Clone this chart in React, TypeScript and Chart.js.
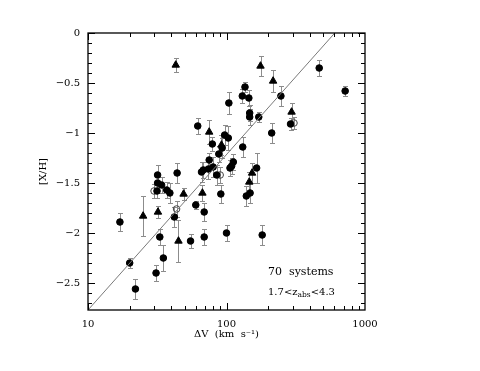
import React, { useEffect, useRef } from "react";
import { Chart, registerables } from "chart.js";

Chart.register(...registerables);

// Filled circles
const circleX = [17, 20, 22, 31, 33, 35, 31.8, 31.8, 34, 31.5, 37, 39, 42, 44, 55, 60, 62, 66, 69, 69, 74, 75, 79, 80, 85, 88, 91, 93, 97, 100, 103, 104, 106, 109, 112, 130, 131, 136, 139, 145, 147, 147, 148, 165, 171, 181, 212, 247, 290, 467, 719, 68];
const circleY = [-1.89, -2.30, -2.56, -2.40, -2.04, -2.25, -1.42, -1.50, -1.52, -1.58, -1.57, -1.60, -1.84, -1.40, -2.08, -1.72, -0.93, -1.39, -1.79, -2.04, -1.36, -1.27, -1.11, -1.34, -1.42, -1.21, -1.61, -1.15, -1.02, -2.00, -1.05, -0.70, -1.35, -1.33, -1.29, -0.63, -1.14, -0.54, -1.63, -0.65, -0.80, -0.84, -1.60, -1.35, -0.84, -2.02, -1.00, -0.63, -0.91, -0.35, -0.58, -1.37];
const circleErr = [0.09, 0.05, 0.1, 0.08, 0.08, 0.13, 0.1, 0.1, 0.08, 0.07, 0.08, 0.1, 0.1, 0.1, 0.07, 0.04, 0.08, 0.1, 0.09, 0.08, 0.1, 0.07, 0.07, 0.1, 0.1, 0.08, 0.09, 0.1, 0.1, 0.08, 0.12, 0.11, 0.08, 0.08, 0.08, 0.07, 0.1, 0.05, 0.1, 0.08, 0.08, 0.08, 0.1, 0.15, 0.05, 0.1, 0.1, 0.1, 0.06, 0.08, 0.05, 0.08];

// Triangles
const triX = [43, 25, 32, 45, 49, 67, 75, 92, 153, 146, 176, 217, 295];
const triY = [-0.32, -1.83, -1.79, -2.08, -1.61, -1.60, -0.99, -1.12, -1.40, -1.49, -0.33, -0.48, -0.79];
const triErr = [0.07, 0.2, 0.06, 0.21, 0.06, 0.08, 0.12, 0.1, 0.1, 0.1, 0.1, 0.11, 0.09];

// Open circles
const openX = [30, 43.6, 90, 307];
const openY = [-1.58, -1.76, -1.42, -0.9];
const openErr = [0.07, 0.08, 0.08, 0.06];

// Fit line
const lineX = [10, 605];
const lineY = [-2.77, 0];

const xTicks = [10, 100, 1000];
const yTicks = [-2.5, -2, -1.5, -1, -0.5, 0];
const yMin = -2.77;
const yMax = 0;

const FONT = "'DejaVu Serif', serif";

const toPts = (xs: number[], ys: number[]) => xs.map((x, i) => ({ x, y: ys[i] }));

const groups = [
  { xs: circleX, ys: circleY, err: circleErr },
  { xs: triX, ys: triY, err: triErr },
  { xs: openX, ys: openY, err: openErr },
];

const fmt = (v: number) => (v === 0 ? "0" : v < 0 ? "\u2212" + String(Math.abs(v)) : String(v));

const decor = {
  id: "decor",
  beforeDatasetsDraw(chart: any) {
    const { ctx, scales } = chart;
    const x = scales.x;
    const y = scales.y;
    ctx.save();
    ctx.strokeStyle = "#8c8c8c";
    ctx.lineWidth = 1;
    groups.forEach((g) => {
      g.xs.forEach((xv, i) => {
        const px = Math.round(x.getPixelForValue(xv)) + 0.5;
        const t = Math.round(y.getPixelForValue(g.ys[i] + g.err[i])) + 0.5;
        const b = Math.round(y.getPixelForValue(g.ys[i] - g.err[i])) + 0.5;
        ctx.beginPath();
        ctx.moveTo(px, t);
        ctx.lineTo(px, b);
        ctx.moveTo(px - 2.5, t);
        ctx.lineTo(px + 2.5, t);
        ctx.moveTo(px - 2.5, b);
        ctx.lineTo(px + 2.5, b);
        ctx.stroke();
      });
    });
    ctx.restore();
  },
  afterDraw(chart: any) {
    const { ctx, chartArea, scales } = chart;
    const x = scales.x;
    const y = scales.y;
    const { left, right, top, bottom } = chartArea;
    ctx.save();
    ctx.strokeStyle = "#000";
    ctx.lineWidth = 1.3;
    ctx.strokeRect(left, top, right - left, bottom - top);
    ctx.lineWidth = 1;
    ctx.beginPath();
    // y ticks every 0.1
    for (let k = 0; k <= 27; k++) {
      const v = -k / 10;
      const py = Math.round(y.getPixelForValue(v)) + 0.5;
      const len = k % 5 === 0 ? 7 : 4;
      ctx.moveTo(left, py);
      ctx.lineTo(left + len, py);
      ctx.moveTo(right, py);
      ctx.lineTo(right - len, py);
    }
    // x log ticks
    [10, 100].forEach((d) => {
      for (let m = 1; m <= 9; m++) {
        const px = Math.round(x.getPixelForValue(m * d)) + 0.5;
        const len = m === 1 ? 7 : 4;
        ctx.moveTo(px, bottom);
        ctx.lineTo(px, bottom - len);
        ctx.moveTo(px, top);
        ctx.lineTo(px, top + len);
      }
    });
    ctx.stroke();

    // annotation text
    ctx.fillStyle = "#000";
    ctx.textBaseline = "middle";
    ctx.font = `11px ${FONT}`;
    ctx.textAlign = "left";
    ctx.fillText("70  systems", 268, 272);
    ctx.font = `10px ${FONT}`;
    let tx = 268;
    const ty = 292;
    const s1 = "1.7<z";
    ctx.fillText(s1, tx, ty);
    tx += ctx.measureText(s1).width;
    ctx.font = `7.5px ${FONT}`;
    ctx.fillText("abs", tx, ty + 3);
    tx += ctx.measureText("abs").width;
    ctx.font = `10px ${FONT}`;
    ctx.fillText("<4.3", tx, ty);
    ctx.restore();
  },
};

export default function App() {
  const ref = useRef<HTMLCanvasElement | null>(null);
  useEffect(() => {
    if (!ref.current) return;
    const chart = new Chart(ref.current, {
      type: "scatter",
      data: {
        datasets: [
          {
            type: "line",
            data: toPts(lineX, lineY),
            borderColor: "#7a7a7a",
            borderWidth: 1,
            pointRadius: 0,
            fill: false,
          } as any,
          {
            data: toPts(circleX, circleY),
            pointStyle: "circle",
            pointRadius: 3.3,
            backgroundColor: "#000",
            borderColor: "#000",
            borderWidth: 1,
          },
          {
            data: toPts(triX, triY),
            pointStyle: "triangle",
            pointRadius: 4.3,
            backgroundColor: "#000",
            borderColor: "#000",
            borderWidth: 1,
          },
          {
            data: toPts(openX, openY),
            pointStyle: "circle",
            pointRadius: 3.3,
            backgroundColor: "rgba(255,255,255,0)",
            borderColor: "#444",
            borderWidth: 1,
          },
        ],
      },
      options: {
        animation: false,
        responsive: false,
        layout: { padding: { left: 33, top: 33, right: 115, bottom: 31 } },
        plugins: { legend: { display: false }, tooltip: { enabled: false } },
        scales: {
          x: {
            type: "logarithmic",
            min: 10,
            max: 1000,
            grid: { display: false, drawTicks: false },
            border: { display: false },
            afterBuildTicks: (s: any) => {
              s.ticks = xTicks.map((v) => ({ value: v }));
            },
            afterFit: (s: any) => {
              s.height = 30;
            },
            ticks: {
              color: "#000",
              padding: 8,
              maxRotation: 0,
              autoSkip: false,
              font: { family: FONT, size: 10 },
              callback: (v: any) => String(v),
            },
            title: {
              display: true,
              text: "\u0394V  (km  s\u207B\u00B9)",
              color: "#000",
              font: { family: FONT, size: 10 },
              padding: { top: 0, bottom: 0 },
            },
          },
          y: {
            min: yMin,
            max: yMax,
            grid: { display: false, drawTicks: false },
            border: { display: false },
            afterBuildTicks: (s: any) => {
              s.ticks = yTicks.map((v) => ({ value: v }));
            },
            afterFit: (s: any) => {
              s.width = 55;
            },
            ticks: {
              color: "#000",
              padding: 8,
              autoSkip: false,
              font: { family: FONT, size: 10 },
              callback: (v: any) => fmt(Number(v)),
            },
            title: {
              display: true,
              text: "[X/H]",
              color: "#000",
              font: { family: FONT, size: 10 },
              padding: { top: 4, bottom: 0 },
            },
          },
        },
      },
      plugins: [decor],
    } as any);
    return () => chart.destroy();
  }, []);
  return (
    <div style={{ position: "fixed", left: 0, top: 0, width: 480, height: 371, background: "#fff" }}>
      <canvas ref={ref} width={480} height={371} style={{ width: 480, height: 371 }} />
    </div>
  );
}
